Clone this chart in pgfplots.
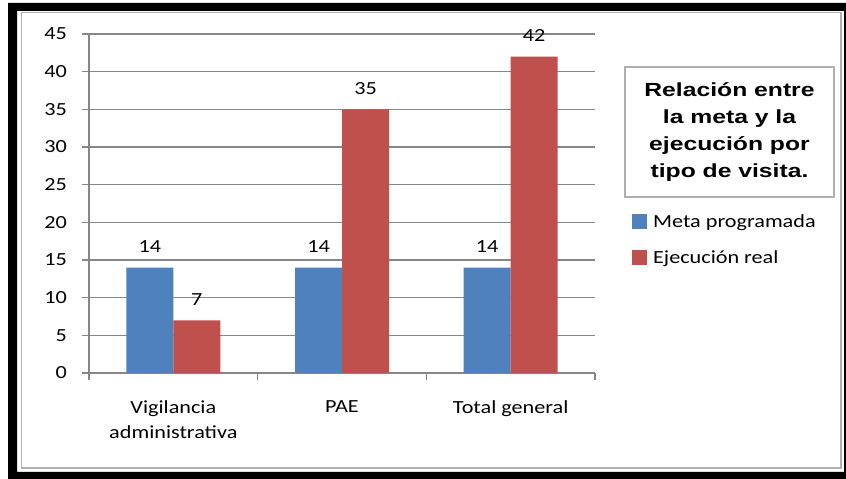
\documentclass[border=0pt]{standalone}
\usepackage{pgfplots}
\pgfplotsset{compat=1.18}
\usepackage{fontspec}
\setmainfont{Carlito}
\newfontfamily\lblfont[FakeStretch=1.2]{Carlito}
\newfontfamily\titlefont[FakeStretch=1.3]{Liberation Sans}
\definecolor{metablue}{RGB}{79,129,189}
\definecolor{ejecred}{RGB}{192,80,77}
\definecolor{gridgray}{RGB}{134,134,134}
\definecolor{framegray}{RGB}{175,175,175}
\newcommand{\lbl}{\lblfont\fontsize{18.5}{25}\selectfont}

\begin{document}
\begin{tikzpicture}[x=1pt,y=1pt]
\useasboundingbox (0,0) rectangle (846,479);
\fill[white] (0,0) rectangle (846,479);
% heavy black outer frame
\fill[black,even odd rule] (8,0) rectangle (846,476) (17,7) rectangle (844,468);
% thin chart-area border
\draw[framegray, line width=1.2pt] (21.5,11) rectangle (841,466.5);

% title box
\node[draw=framegray, line width=1.2pt, minimum width=209pt, minimum height=130pt,
      align=center, inner sep=0pt,
      font=\titlefont\bfseries\fontsize{19}{26.7}\selectfont]
  at (729.5,347) {Relación entre\\la meta y la\\ejecución por\\tipo de visita.};

\begin{axis}[
  at={(89pt,106pt)}, anchor=south west,
  scale only axis, width=506pt, height=339pt,
  xmin=-0.5, xmax=2.5, ymin=0, ymax=45,
  ybar=0pt, bar width=47pt,
  axis lines*=left,
  axis line style={gridgray, line width=1.2pt},
  ymajorgrids, grid style={gridgray, line width=1.2pt},
  ytick={0,5,...,45},
  ytick style={gridgray, line width=1.2pt},
  tick align=outside, major tick length=7pt,
  xtick={0,1,2},
  xticklabels={Vigilancia\\administrativa, PAE, Total general},
  x tick style={draw=none},
  extra x ticks={-0.5,0.5,1.5,2.5},
  extra x tick labels={},
  extra x tick style={grid=none, x tick style={draw=gridgray, line width=1.2pt}},
  /pgf/number format/assume math mode=true,
  yticklabel style={font=\lbl, anchor=east, inner sep=0pt, xshift=-15pt},
  xticklabel style={font=\lbl, align=center, anchor=north, inner sep=0pt, yshift=-20pt},
  nodes near coords,
  nodes near coords style={font=\lbl, anchor=south, inner sep=0pt, yshift=15pt, text=black},
  legend style={at={(1.073,0.475)}, anchor=north west, draw=none, fill=none,
                font=\lbl, inner sep=0pt, row sep=18pt,
                /tikz/every odd column/.append style={column sep=4pt}},
  legend cell align=left,
  legend image code/.code={\fill[#1] (0pt,-7.5pt) rectangle (15pt,7.5pt);},
]
\addplot[fill=metablue, draw=none] coordinates {(0,14) (1,14) (2,14)};
\addlegendentry{Meta programada}
\addplot[fill=ejecred, draw=none] coordinates {(0,7) (1,35) (2,42)};
\addlegendentry{Ejecución real}
\end{axis}
\end{tikzpicture}
\end{document}
